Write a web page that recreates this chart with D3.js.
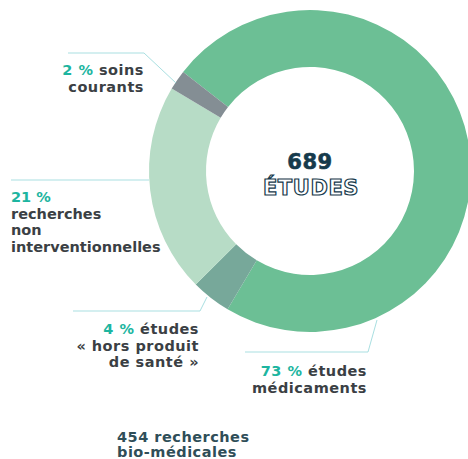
<!DOCTYPE html>
<html>
<head>
<meta charset="utf-8">
<script src="https://cdn.jsdelivr.net/npm/d3@7"></script>
<style>
  body { margin: 0; background: #fff; }
  svg { display: block; }
  text { font-family: "DejaVu Sans", sans-serif; font-weight: bold; }
</style>
</head>
<body>
<div id="chart"></div>
<script>
// segments in clockwise order, starting at the upper-left edge of the big slice
const categories = ["études médicaments", "études « hors produit de santé »", "recherches non interventionnelles", "soins courants"];
const shares = [73, 4, 21, 2];
const colors = ["#6cbf95", "#77a89a", "#b7dcc6", "#848e94"];
const totalStudies = 689;
const bioMedical = 454;

const width = 468, height = 459;
const cx = 310, cy = 171;
const outerR = 161, innerR = 104;

const svg = d3.select("#chart").append("svg")
  .attr("width", width)
  .attr("height", height);

const pie = d3.pie().sort(null).value(d => d)
  .startAngle(-52 * Math.PI / 180)
  .endAngle(308 * Math.PI / 180);
const arc = d3.arc().innerRadius(innerR).outerRadius(outerR);

const g = svg.append("g").attr("transform", `translate(${cx},${cy})`);
g.selectAll("path")
  .data(pie(shares))
  .join("path")
  .attr("d", arc)
  .attr("fill", (d, i) => colors[i]);

// leader lines
const lineColor = "#a9dfe1";
const leaders = [
  [[68, 53], [144, 53], [176, 83]],
  [[11, 180], [149, 180]],
  [[73, 311], [200, 311], [207, 297]],
  [[245, 352], [368, 352], [377, 320]]
];
svg.selectAll("path.leader")
  .data(leaders)
  .join("path")
  .attr("class", "leader")
  .attr("d", d3.line())
  .attr("fill", "none")
  .attr("stroke", lineColor)
  .attr("stroke-width", 1);

const pctColor = "#1db5a0";
const txtColor = "#3b3f44";
const fs = 14.5;
const ls = "0.5px";

function label(x, y, anchor, lines, spacing) {
  const t = svg.append("text")
    .attr("x", x)
    .attr("y", y)
    .attr("text-anchor", anchor)
    .style("font-size", fs + "px")
    .style("letter-spacing", spacing || ls)
    .style("fill", txtColor);
  lines.forEach((ln, i) => {
    const row = t.append("tspan").attr("x", x).attr("dy", i === 0 ? 0 : 16.5);
    ln.forEach(part => {
      row.append("tspan").style("fill", part.c || txtColor).text(part.t);
    });
  });
}

label(144, 75, "end", [
  [{ t: shares[3] + " %", c: pctColor }, { t: " soins" }],
  [{ t: "courants" }]
]);
label(11, 202, "start", [
  [{ t: shares[2] + " %", c: pctColor }],
  [{ t: "recherches" }],
  [{ t: "non" }],
  [{ t: "interventionnelles" }]
], "0px");
label(199, 334, "end", [
  [{ t: shares[1] + " %", c: pctColor }, { t: " études" }],
  [{ t: "« hors produit" }],
  [{ t: "de santé »" }]
]);
label(367, 376, "end", [
  [{ t: shares[0] + " %", c: pctColor }, { t: " études" }],
  [{ t: "médicaments" }]
]);

svg.append("text")
  .attr("x", 117)
  .attr("y", 442)
  .style("font-size", fs + "px")
  .style("letter-spacing", ls)
  .style("fill", "#2f4e58")
  .selectAll("tspan")
  .data([bioMedical + " recherches", "bio-médicales"])
  .join("tspan")
  .attr("x", 117)
  .attr("dy", (d, i) => i === 0 ? 0 : 15)
  .text(d => d);

// centre
svg.append("text")
  .attr("x", cx)
  .attr("y", 169)
  .attr("text-anchor", "middle")
  .style("font-size", "21px")
  .style("font-weight", 900)
  .style("letter-spacing", "0.5px")
  .style("fill", "#163a4c")
  .style("stroke", "#163a4c")
  .style("stroke-width", 0.6)
  .text(totalStudies);

svg.append("text")
  .attr("x", cx + 1)
  .attr("y", 195)
  .attr("text-anchor", "middle")
  .style("font-size", "21px")
  .style("letter-spacing", "0.6px")
  .style("fill", "#fff")
  .style("stroke", "#163a4c")
  .style("stroke-width", 1.2)
  .text("ÉTUDES");
</script>
</body>
</html>
